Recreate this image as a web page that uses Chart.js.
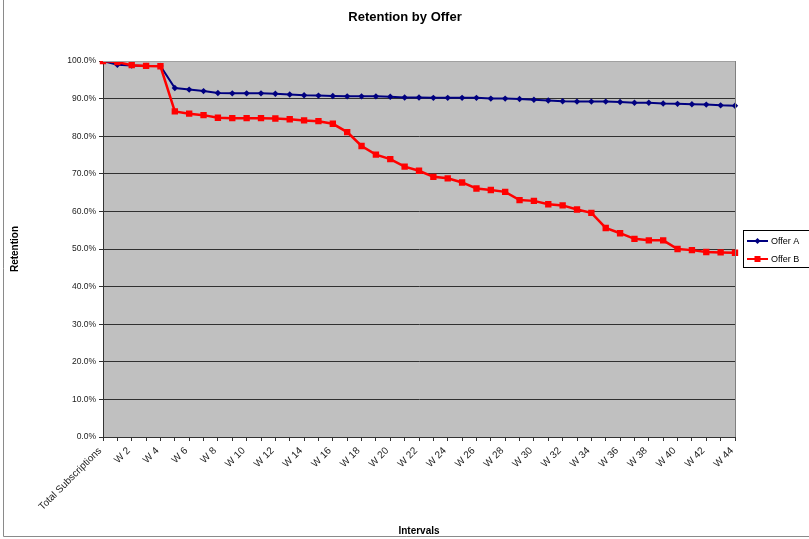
<!DOCTYPE html>
<html>
<head>
<meta charset="utf-8">
<script src="https://cdn.jsdelivr.net/npm/chart.js@4.4.1/dist/chart.umd.min.js"></script>
<style>
  html, body { margin: 0; padding: 0; background: #ffffff; }
  #wrap { width: 809px; height: 539px; }
</style>
</head>
<body>
<div id="wrap"><canvas id="c" width="809" height="539"></canvas></div>
<script>
const categories = ['Total Subscriptions','W 1','W 2','W 3','W 4','W 5','W 6','W 7','W 8','W 9','W 10',
  'W 11','W 12','W 13','W 14','W 15','W 16','W 17','W 18','W 19','W 20',
  'W 21','W 22','W 23','W 24','W 25','W 26','W 27','W 28','W 29','W 30',
  'W 31','W 32','W 33','W 34','W 35','W 36','W 37','W 38','W 39','W 40',
  'W 41','W 42','W 43','W 44'];

const offerA = [100, 99.0, 98.8, 98.7, 98.7, 92.8, 92.4, 92.0, 91.5, 91.4, 91.4,
  91.4, 91.3, 91.1, 90.9, 90.8, 90.7, 90.6, 90.6, 90.6, 90.5,
  90.3, 90.3, 90.2, 90.2, 90.2, 90.2, 90.0, 90.0, 89.9, 89.7,
  89.5, 89.3, 89.2, 89.2, 89.2, 89.1, 88.9, 88.9, 88.7, 88.6,
  88.5, 88.4, 88.2, 88.1];

const offerB = [100, 99.7, 98.9, 98.7, 98.6, 86.6, 86.0, 85.6, 84.9, 84.8, 84.8,
  84.8, 84.7, 84.5, 84.2, 84.0, 83.3, 81.1, 77.4, 75.1, 73.9,
  71.9, 70.8, 69.2, 68.8, 67.7, 66.1, 65.7, 65.2, 63.0, 62.8,
  61.9, 61.6, 60.5, 59.6, 55.6, 54.2, 52.7, 52.3, 52.3, 50.0,
  49.7, 49.2, 49.1, 49.0];

const seriesNames = ['Offer A', 'Offer B'];
const yTicks = [0, 10, 20, 30, 40, 50, 60, 70, 80, 90, 100];

const FONT = '"Liberation Sans", Arial, sans-serif';
const BLUE = '#000080';
const RED = '#ff0000';

const decor = {
  id: 'decor',
  beforeDraw(chart) {
    const { ctx, chartArea: a } = chart;
    ctx.save();
    ctx.fillStyle = '#c0c0c0';
    ctx.fillRect(a.left, a.top, a.right - a.left, a.bottom - a.top);
    ctx.restore();
  },
  afterDatasetsDraw(chart) {
    const { ctx, chartArea: a } = chart;
    ctx.save();
    ctx.strokeStyle = '#a0a0a0';
    ctx.lineWidth = 1;
    ctx.beginPath();
    ctx.moveTo(a.left, a.top + 0.5);
    ctx.lineTo(a.right, a.top + 0.5);
    ctx.stroke();
    ctx.strokeStyle = '#808080';
    ctx.beginPath();
    ctx.moveTo(a.right + 0.5, a.top);
    ctx.lineTo(a.right + 0.5, a.bottom);
    ctx.stroke();
    ctx.restore();
  },
  afterDraw(chart) {
    const { ctx } = chart;
    ctx.save();
    ctx.strokeStyle = '#8a8a8a';
    ctx.lineWidth = 1;
    ctx.beginPath();
    ctx.moveTo(3.5, 0);
    ctx.lineTo(3.5, 536.5);
    ctx.lineTo(809, 536.5);
    ctx.stroke();

    ctx.fillStyle = '#000';
    ctx.textAlign = 'center';
    ctx.textBaseline = 'middle';
    ctx.font = 'bold 13px ' + FONT;
    ctx.fillText('Retention by Offer', 405, 17);

    ctx.font = 'bold 10px ' + FONT;
    ctx.fillText('Intervals', 419, 531);
    ctx.save();
    ctx.translate(15, 249);
    ctx.rotate(-Math.PI / 2);
    ctx.fillText('Retention', 0, 0);
    ctx.restore();

    const lx = 743, ly = 230, lw = 80, lh = 37;
    ctx.fillStyle = '#fff';
    ctx.fillRect(lx, ly, lw, lh);
    ctx.strokeStyle = '#000';
    ctx.strokeRect(lx + 0.5, ly + 0.5, lw, lh);
    const rows = [
      { name: seriesNames[0], color: BLUE, y: 241, style: 'diamond' },
      { name: seriesNames[1], color: RED, y: 259, style: 'square' }
    ];
    ctx.font = '9px ' + FONT;
    ctx.textAlign = 'left';
    rows.forEach(r => {
      ctx.strokeStyle = r.color;
      ctx.lineWidth = 2;
      ctx.beginPath();
      ctx.moveTo(747, r.y);
      ctx.lineTo(768, r.y);
      ctx.stroke();
      ctx.fillStyle = r.color;
      if (r.style === 'diamond') {
        ctx.beginPath();
        ctx.moveTo(757.5, r.y - 3);
        ctx.lineTo(760.5, r.y);
        ctx.lineTo(757.5, r.y + 3);
        ctx.lineTo(754.5, r.y);
        ctx.closePath();
        ctx.fill();
      } else {
        ctx.fillRect(754.5, r.y - 3, 6, 6);
      }
      ctx.fillStyle = '#000';
      ctx.fillText(r.name, 771, r.y + 0.5);
    });
    ctx.restore();
  }
};

new Chart(document.getElementById('c'), {
  type: 'line',
  data: {
    labels: categories,
    datasets: [
      {
        label: seriesNames[0],
        data: offerA,
        borderColor: BLUE,
        backgroundColor: BLUE,
        borderWidth: 2,
        pointStyle: 'rectRot',
        pointRadius: 3.2,
        pointBorderWidth: 0,
        tension: 0,
        order: 1
      },
      {
        label: seriesNames[1],
        data: offerB,
        borderColor: RED,
        backgroundColor: RED,
        borderWidth: 2.5,
        pointStyle: 'rect',
        pointRadius: 4.5,
        pointBorderWidth: 0,
        tension: 0,
        order: 0
      }
    ]
  },
  options: {
    responsive: false,
    animation: false,
    devicePixelRatio: 1,
    layout: { padding: { top: 61, left: 0, right: 74, bottom: 0 } },
    plugins: {
      legend: { display: false },
      title: { display: false },
      tooltip: { enabled: false }
    },
    scales: {
      x: {
        type: 'category',
        offset: false,
        afterFit(scale) { scale.height = 102; },
        grid: {
          display: true,
          drawOnChartArea: false,
          drawTicks: true,
          tickLength: 4,
          color: '#333'
        },
        border: { display: true, color: '#333', width: 1 },
        ticks: {
          autoSkip: false,
          minRotation: 45,
          maxRotation: 45,
          padding: 4,
          labelOffset: -3,
          color: '#222',
          font: { family: FONT, size: 10 },
          callback(value, index) {
            return index % 2 === 0 ? categories[index] : '';
          }
        }
      },
      y: {
        min: 0,
        max: 100,
        afterFit(scale) { scale.width = 103; },
        afterBuildTicks(scale) { scale.ticks = yTicks.map(v => ({ value: v })); },
        grid: {
          display: true,
          color: '#303030',
          lineWidth: 1,
          drawTicks: true,
          tickLength: 4
        },
        border: { display: true, color: '#333', width: 1 },
        ticks: {
          padding: 3,
          color: '#222',
          font: { family: FONT, size: 8.5 },
          callback(value) { return value.toFixed(1) + '%'; }
        }
      }
    }
  },
  plugins: [decor]
});
</script>
</body>
</html>
